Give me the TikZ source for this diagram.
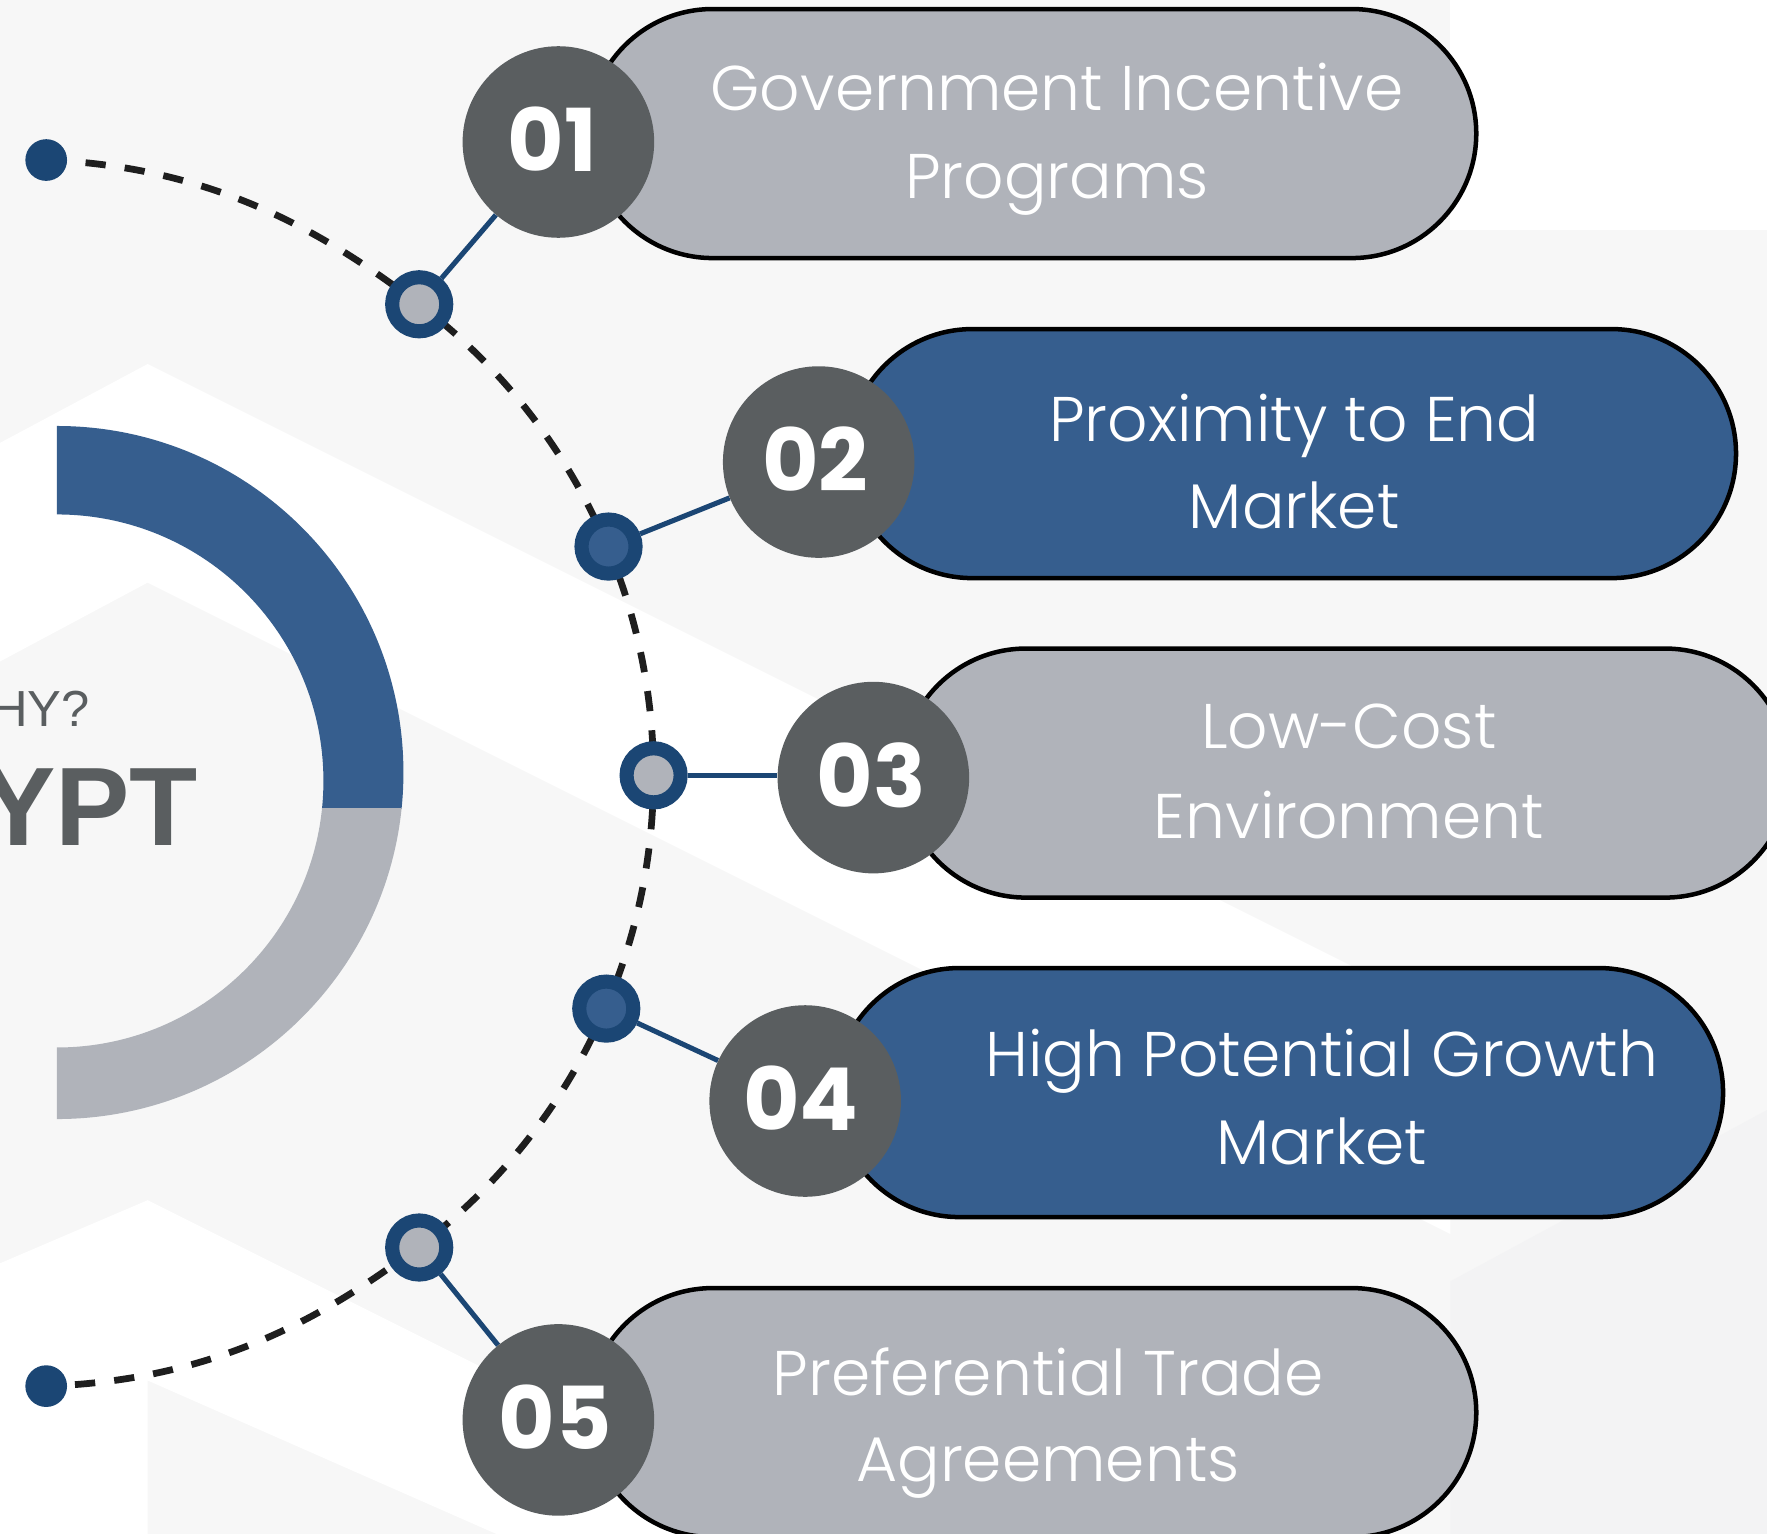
\documentclass[tikz,border=0pt]{standalone}
\usepackage{fontspec}
\usetikzlibrary{shapes.misc}
\newfontfamily\lblfont{Poppins Light}
\newfontfamily\numfont{Poppins Bold}
\newfontfamily\hdfont{Liberation Sans}
\definecolor{bgc}{HTML}{F7F7F7}
\definecolor{bgd}{HTML}{F3F3F4}
\definecolor{pillgrey}{HTML}{B0B3BA}
\definecolor{pillblue}{HTML}{365E8E}
\definecolor{navy}{HTML}{1B4674}
\definecolor{numgrey}{HTML}{5A5E60}
\definecolor{dashc}{HTML}{1E1E1E}
\pgfdeclarelayer{bglayer}
\pgfdeclarelayer{midlayer}
\pgfsetlayers{bglayer,midlayer,main}
\begin{document}
\begin{tikzpicture}[x=1pt,y=-1pt,
  pill/.style={rounded rectangle, draw=black, line width=4pt, minimum width=788pt, minimum height=221pt, inner sep=0pt},
  greypill/.style={pill, fill=pillgrey},
  bluepill/.style={pill, fill=pillblue},
  numc/.style={circle, fill=numgrey, minimum size=170pt, inner sep=0pt},
  numtxt/.style={inner sep=0pt, text=white, font=\numfont\fontsize{77}{77}\selectfont},
  ring/.style={circle, draw=navy, line width=12.5pt, minimum size=48pt, inner sep=0pt},
  enddot/.style={circle, fill=navy, minimum size=37pt, inner sep=0pt},
  conn/.style={draw=navy, line width=4.5pt},
  dashline/.style={draw=dashc, line width=6pt, dash pattern=on 18pt off 17pt},
  lbl/.style={text=white, anchor=base, inner sep=0pt, font=\lblfont\fontsize{56}{78}\selectfont},
]
\useasboundingbox (0,0) rectangle (1568,1361);
\clip (0,0) rectangle (1568,1361);
% pills
\node[greypill] (p1) at (916,118.5) {};
\node[bluepill] (p2) at (1146.5,402.5) {};
\node[greypill] (p3) at (1194,686) {};
\node[bluepill] (p4) at (1135,969.5) {};
\node[greypill] (p5) at (916,1253.5) {};
% end dots
\node[enddot] (d1) at (41,142) {};
\node[enddot] (d5) at (41,1230) {};
% rings
\node[ring, fill=pillgrey] (r1) at (372,270) {};
\node[ring, fill=pillblue] (r2) at (540,485) {};
\node[ring, fill=pillgrey] (r3) at (580,688) {};
\node[ring, fill=pillblue] (r4) at (538,895) {};
\node[ring, fill=pillgrey] (r5) at (372,1107) {};
% number circles
\node[numc] (n1) at (495.5,126) {};
\node[numc] (n2) at (726.5,410) {};
\node[numc] (n3) at (775,690) {};
\node[numc] (n4) at (714.5,977) {};
\node[numc] (n5) at (495.5,1260) {};
\node[numtxt] (k1) at (490,123.5) {01};
\node[numtxt] (k2) at (723.5,407.5) {02};
\node[numtxt] (k3) at (773,688) {03};
\node[numtxt] (k4) at (710.5,974.5) {04};
\node[numtxt] (k5) at (492.5,1257.5) {05};
% labels
\node[lbl] (t1a) at (938,98) {Government Incentive};
\node[lbl] (t1b) at (938,176) {Programs};
\node[lbl] (t2a) at (1148.5,391.5) {Proximity to End};
\node[lbl] (t2b) at (1148.5,469) {Market};
\node[lbl] (t3a) at (1197,664) {Low-Cost};
\node[lbl] (t3b) at (1197,744) {Environment};
\node[lbl] (t4a) at (1173,955) {High Potential Growth};
\node[lbl] (t4b) at (1173,1033) {Market};
\node[lbl] (t5a) at (930,1238.5) {Preferential Trade};
\node[lbl] (t5b) at (930,1315) {Agreements};
% connectors
\begin{pgfonlayer}{midlayer}
\draw[conn] (r1) -- (n1);
\draw[conn] (r2) -- (n2);
\draw[conn] (r3.east) -- (n3.west |- r3.east);
\draw[conn] (r4) -- (n4);
\draw[conn] (r5) -- (n5);
\end{pgfonlayer}
% background, half ring, title, dashed path
\begin{pgfonlayer}{bglayer}
\fill[bgc] (0,0) rectangle (1568,1361);
\fill[white] (0,393) -- (131,323) -- (1287,901) -- (1287,1095) -- (131,517) -- (0,587) -- cycle;
\fill[white] (0,1121) -- (131,1065) -- (723,1361) -- (440,1361) -- (131,1225) -- (131,1361) -- (0,1361) -- cycle;
\fill[white] (1287,0) rectangle (1568,204);
\fill[bgd] (1287,1137) -- (1568,985) -- (1568,1361) -- (1287,1361) -- cycle;
\begin{scope}
  \clip (50.5,0) rectangle (400,717.5);
  \fill[pillblue, even odd rule] (50.5,685.5) circle[radius=307.5] (50.5,693) circle[radius=236.5];
\end{scope}
\begin{scope}
  \clip (50.5,717.5) rectangle (400,1100);
  \fill[pillgrey, even odd rule] (50.5,685.5) circle[radius=307.5] (50.5,693) circle[radius=236.5];
\end{scope}
\node[anchor=base east, inner sep=0pt, text=numgrey, font=\hdfont\fontsize{45}{45}\selectfont] (why) at (80,645) {HY?};
\node[anchor=base east, inner sep=0pt, text=numgrey, font=\hdfont\bfseries\fontsize{99}{99}\selectfont] (egypt) at (176,750) {YPT};
\draw[dashline] (d1.center) .. controls (200,148) and (300,216) .. (r1.center)
  arc[start angle=-52.9, end angle=53, radius=524]
  .. controls (299,1160) and (200,1225) .. (d5.center);
\end{pgfonlayer}
\end{tikzpicture}
\end{document}
